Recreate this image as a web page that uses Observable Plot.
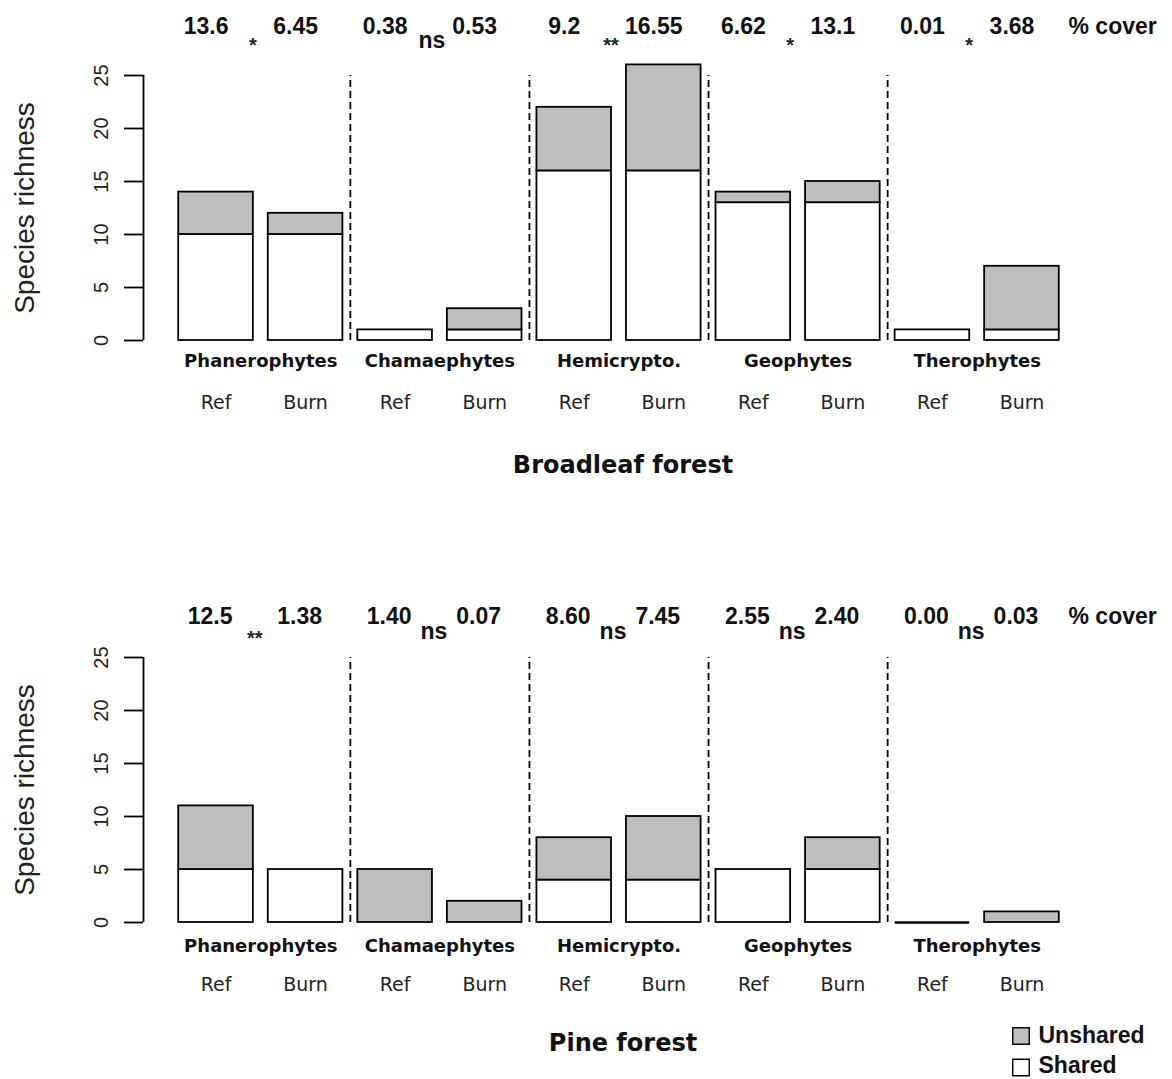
<!DOCTYPE html>
<html>
<head>
<meta charset="utf-8">
<script src="https://cdn.jsdelivr.net/npm/d3@7"></script>
<script src="https://cdn.jsdelivr.net/npm/@observablehq/plot@0.6"></script>
<style>
  html, body { margin: 0; padding: 0; background: #fff; }
  #chart svg { display: block; }
</style>
</head>
<body>
<div id="chart"></div>
<script>
// Life forms and sites, in bar order (Ref then Burn within each life form)
const lifeForms = ["Phanerophytes", "Chamaephytes", "Hemicrypto.", "Geophytes", "Therophytes"];
const sites = ["Ref", "Burn"];

// Broadleaf forest: species richness split into shared / unshared species
const broadShared   = [10, 10, 1, 1, 16, 16, 13, 13, 1, 1];
const broadUnshared = [4, 2, 0, 2, 6, 10, 1, 2, 0, 6];
const broadCover    = ["13.6", "6.45", "0.38", "0.53", "9.2", "16.55", "6.62", "13.1", "0.01", "3.68"];
const broadSig      = ["*", "ns", "**", "*", "*"];

// Pine forest
const pineShared   = [5, 5, 0, 0, 4, 4, 5, 5, 0, 0];
const pineUnshared = [6, 0, 5, 2, 4, 6, 0, 3, 0, 1];
const pineCover    = ["12.5", "1.38", "1.40", "0.07", "8.60", "7.45", "2.55", "2.40", "0.00", "0.03"];
const pineSig      = ["**", "ns", "ns", "ns", "ns"];

const yTicks = [0, 5, 10, 15, 20, 25];
const coverLabel = "% cover";
const yLabel = "Species richness";
const legendLabels = ["Unshared", "Shared"];

// barplot-style layout: unit-width bars separated by 0.2, 4% padding at both ends
const barWidth = 1, space = 0.2;
const nBars = lifeForms.length * sites.length;
const firstLeft = space, lastRight = nBars * (barWidth + space);
const pad = 0.04 * (lastRight - firstLeft);
const xMin = firstLeft - pad, xMax = lastRight + pad;

const GRAY = "#bebebe";
const SANS = "'Liberation Sans', Arial, sans-serif";
const WIDE = "'DejaVu Sans', Verdana, sans-serif";
const LW = 1.8;

function panel({shared, unshared, cover, sig, title, height, off, legend}) {
  const bars = shared.map((s, i) => {
    const x1 = space + i * (barWidth + space);
    return {
      lifeForm: lifeForms[Math.floor(i / 2)],
      site: sites[i % 2],
      shared: s,
      unshared: unshared[i],
      total: s + unshared[i],
      cover: cover[i],
      x1, x2: x1 + barWidth, xm: x1 + barWidth / 2
    };
  });
  const groups = lifeForms.map((lf, g) => ({
    lifeForm: lf,
    sig: sig[g],
    xm: (bars[2 * g].xm + bars[2 * g + 1].xm) / 2
  }));
  // dashed separators halfway between neighbouring life forms
  const separators = groups.slice(1).map((_, g) => (bars[2 * g + 1].x2 + bars[2 * g + 2].x1) / 2);
  const stars = groups.filter(d => d.sig !== "ns");
  const ns = groups.filter(d => d.sig === "ns");

  const marks = [
    // axis line and ticks
    Plot.ruleX([xMin], {y1: 0, y2: 25, strokeWidth: LW}),
    Plot.axisY({ticks: yTicks, tickSize: 19, strokeWidth: LW, fill: "none", label: null}),
    Plot.text(yTicks, {x: xMin, y: d => d, text: d => String(d), rotate: -90, dx: -42,
      fontSize: 20, fontFamily: SANS, textAnchor: "middle", lineAnchor: "middle", fill: "#222"}),
    Plot.text([yLabel], {frameAnchor: "left", rotate: -90, dx: -118, fontSize: 28,
      fontFamily: SANS, textAnchor: "middle", lineAnchor: "middle", fill: "#222"}),
    // separators between life forms
    Plot.ruleX(separators, {x: d => d, y1: 0, y2: 25, strokeWidth: LW, strokeDasharray: "7,4"}),
    // stacked bars
    Plot.rect(bars, {x1: "x1", x2: "x2", y1: 0, y2: "shared", fill: "white", stroke: "black", strokeWidth: LW}),
    Plot.rect(bars, {x1: "x1", x2: "x2", y1: "shared", y2: "total", fill: GRAY, stroke: "black", strokeWidth: LW}),
    Plot.ruleY(bars.filter(d => d.total === 0), {x1: "x1", x2: "x2", y: 0, strokeWidth: LW + 0.6}),
    // % cover values and significance
    Plot.text(bars, {x: "xm", text: "cover", frameAnchor: "top", dx: off.numDx, dy: off.num, lineAnchor: "bottom",
      fontSize: 23, fontWeight: "bold", fontFamily: SANS, fill: "#111"}),
    Plot.text(ns, {x: "xm", text: "sig", frameAnchor: "top", dx: off.sigDx, dy: off.ns, lineAnchor: "bottom",
      fontSize: 23, fontWeight: "bold", fontFamily: SANS, fill: "#111"}),
    Plot.text(stars, {x: "xm", text: "sig", frameAnchor: "top", dx: off.sigDx, dy: off.star, lineAnchor: "bottom",
      fontSize: 20, fontWeight: "bold", fontFamily: SANS, fill: "#222"}),
    Plot.text([coverLabel], {frameAnchor: "top-right", dx: -26, dy: off.num, textAnchor: "start", lineAnchor: "bottom",
      fontSize: 23, fontWeight: "bold", fontFamily: SANS, fill: "#111"}),
    // category labels
    Plot.text(groups, {x: "xm", text: "lifeForm", frameAnchor: "bottom", dy: off.life, lineAnchor: "bottom",
      fontSize: 18, fontWeight: "bold", fontFamily: WIDE, fill: "#111"}),
    Plot.text(bars, {x: "xm", text: "site", frameAnchor: "bottom", dy: 68, lineAnchor: "bottom",
      fontSize: 19, fontFamily: WIDE, fill: "#222"}),
    Plot.text([title], {frameAnchor: "bottom", dx: 4, dy: off.title, lineAnchor: "bottom",
      fontSize: 24, fontWeight: "bold", fontFamily: WIDE, fill: "#111"})
  ];

  if (legend) {
    marks.push(
      Plot.dot([GRAY], {frameAnchor: "bottom-right", dx: -73.5, dy: 113.5, symbol: "square", r: 9.3,
        fill: d => d, stroke: "black", strokeWidth: 1.4}),
      Plot.dot(["white"], {frameAnchor: "bottom-right", dx: -73.5, dy: 145, symbol: "square", r: 9.3,
        fill: d => d, stroke: "black", strokeWidth: 1.4}),
      Plot.text([legendLabels[0]], {frameAnchor: "bottom-right", dx: -56, dy: 120, textAnchor: "start",
        lineAnchor: "bottom", fontSize: 23, fontWeight: "bold", fontFamily: SANS, fill: "#111"}),
      Plot.text([legendLabels[1]], {frameAnchor: "bottom-right", dx: -56, dy: 150, textAnchor: "start",
        lineAnchor: "bottom", fontSize: 23, fontWeight: "bold", fontFamily: SANS, fill: "#111"})
    );
  }

  return Plot.plot({
    width: 1172,
    height,
    marginLeft: 143,
    marginRight: 78,
    marginTop: 75,
    marginBottom: height - 340,
    x: {domain: [xMin, xMax], axis: null},
    y: {domain: [0, 25]},
    style: {fontFamily: SANS, background: "white", overflow: "visible"},
    marks
  });
}

const chart = document.getElementById("chart");
chart.append(panel({
  shared: broadShared, unshared: broadUnshared, cover: broadCover, sig: broadSig,
  title: "Broadleaf forest", height: 582,
  off: {numDx: -10, sigDx: -8, num: -42, ns: -28, star: -24, life: 26, title: 132}
}));
chart.append(panel({
  shared: pineShared, unshared: pineUnshared, cover: pineCover, sig: pineSig,
  title: "Pine forest", height: 497,
  off: {numDx: -6, sigDx: -6, num: -34, ns: -19, star: -13, life: 29, title: 128},
  legend: true
}));
</script>
</body>
</html>
